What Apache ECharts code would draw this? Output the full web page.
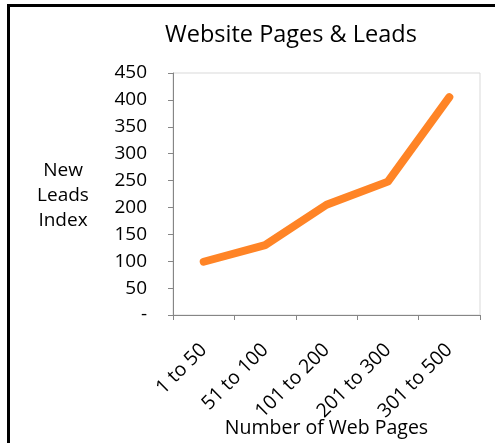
<!DOCTYPE html>
<html><head><meta charset="utf-8">
<script src="https://cdn.jsdelivr.net/npm/echarts@6/dist/echarts.min.js"></script>
<style>html,body{margin:0;padding:0;background:#fff}#c{width:495px;height:443px}</style>
</head><body><div id="c"></div>
<script>
const categories = ['1 to 50','51 to 100','101 to 200','201 to 300','301 to 500'];
const leads = [99, 130, 205, 248, 405];
const yTicks = [0,50,100,150,200,250,300,350,400,450];
const titleText = 'Website Pages & Leads';
const yName = 'New\nLeads\nIndex';
const xName = 'Number of Web Pages';
const F = '"Open Sans", sans-serif';
const chart = echarts.init(document.getElementById('c'), null, {renderer:'canvas'});
chart.setOption({
  animation:false,
  backgroundColor:'#fff',
  grid:{left:173, top:73, right:15, bottom:128, show:true, borderColor:'#d9d9d9', borderWidth:1, containLabel:false, outerBoundsMode:'none'},
  graphic:[
    {type:'rect', shape:{x:7,y:4,width:3,height:439}, style:{fill:'#000'}},
    {type:'rect', shape:{x:7,y:4,width:488,height:3}, style:{fill:'#000'}},
    {type:'text', x:291, y:35, style:{text:titleText, font:'23.5px '+F, fill:'#000', textAlign:'center', textVerticalAlign:'middle'}},
    {type:'text', x:63, y:196, style:{text:yName, font:'19px '+F, fill:'#000', textAlign:'center', textVerticalAlign:'middle', lineHeight:25}},
    {type:'text', x:326.5, y:428, style:{text:xName, font:'19.5px '+F, fill:'#000', textAlign:'center', textVerticalAlign:'middle'}}
  ],
  xAxis:{
    type:'category', data:categories, boundaryGap:true,
    axisLine:{lineStyle:{color:'#868686', width:1}},
    axisTick:{show:true, length:5, lineStyle:{color:'#868686'}},
    axisLabel:{rotate:45, margin:32, color:'#000', fontSize:19.5, fontFamily:F, interval:0}
  },
  yAxis:{
    type:'value', min:yTicks[0], max:yTicks[yTicks.length-1], interval:50,
    axisLine:{show:true, lineStyle:{color:'#868686', width:1}},
    axisTick:{show:true, length:5, lineStyle:{color:'#868686'}},
    splitLine:{show:false},
    axisLabel:{margin:26, color:'#000', fontSize:19, fontFamily:F, formatter:v=>v===0?'-':String(v)}
  },
  series:[{
    type:'line', data:leads, symbol:'none',
    lineStyle:{color:'#FF8426', width:8, cap:'round', join:'round'}
  }]
});
</script></body></html>
